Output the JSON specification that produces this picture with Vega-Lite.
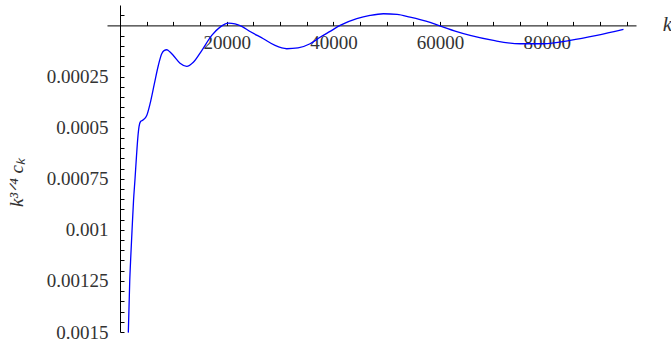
{
  "$schema": "https://vega.github.io/schema/vega-lite/v6.json",
  "autosize": {"type": "none"},
  "padding": {"left": 107, "top": 5, "right": 35, "bottom": 12},
  "width": 529,
  "height": 327,
  "background": "white",
  "config": {"view": {"stroke": null}, "font": "Liberation Serif"},
  "data": {"values": [
    {"k": 1556, "c": 0.001503},
    {"k": 1819, "c": 0.001253},
    {"k": 2025, "c": 0.001127},
    {"k": 2250, "c": 0.001005},
    {"k": 2531, "c": 0.000858},
    {"k": 2813, "c": 0.00075},
    {"k": 3094, "c": 0.000637},
    {"k": 3319, "c": 0.000555},
    {"k": 3563, "c": 0.000495},
    {"k": 3844, "c": 0.00047},
    {"k": 4369, "c": 0.000462},
    {"k": 5006, "c": 0.000441},
    {"k": 5625, "c": 0.000384},
    {"k": 6431, "c": 0.000286},
    {"k": 7181, "c": 0.000196},
    {"k": 7819, "c": 0.000139},
    {"k": 8250, "c": 0.000123},
    {"k": 8756, "c": 0.000119},
    {"k": 9375, "c": 0.00013},
    {"k": 9994, "c": 0.000147},
    {"k": 11250, "c": 0.000185},
    {"k": 12506, "c": 0.0002},
    {"k": 13744, "c": 0.00018},
    {"k": 15319, "c": 0.000123},
    {"k": 17194, "c": 0.000049},
    {"k": 18750, "c": 0.0000083},
    {"k": 20306, "c": -0.0000113},
    {"k": 21563, "c": -0.0000074},
    {"k": 22819, "c": 0.0000049},
    {"k": 24375, "c": 0.0000294},
    {"k": 26869, "c": 0.0000652},
    {"k": 29063, "c": 0.000098},
    {"k": 31256, "c": 0.000114},
    {"k": 33375, "c": 0.00011},
    {"k": 35625, "c": 0.0000897},
    {"k": 37500, "c": 0.0000580},
    {"k": 39375, "c": 0.0000290},
    {"k": 41250, "c": 0},
    {"k": 44381, "c": -0.0000328},
    {"k": 46875, "c": -0.000049},
    {"k": 49369, "c": -0.0000573},
    {"k": 51938, "c": -0.0000539},
    {"k": 54375, "c": -0.0000407},
    {"k": 56250, "c": -0.0000290},
    {"k": 58125, "c": -0.0000150},
    {"k": 59681, "c": 0},
    {"k": 62813, "c": 0.0000280},
    {"k": 65625, "c": 0.000049},
    {"k": 70000, "c": 0.0000735},
    {"k": 75000, "c": 0.0000897},
    {"k": 79369, "c": 0.0000897},
    {"k": 84375, "c": 0.0000735},
    {"k": 89381, "c": 0.000049},
    {"k": 94369, "c": 0.0000196}
  ]},
  "mark": {"type": "line", "color": "#0000ff", "strokeWidth": 1.3, "interpolate": "monotone", "clip": false},
  "encoding": {
    "x": {
      "field": "k", "type": "quantitative",
      "scale": {"domain": [-2440, 96720], "nice": false, "zero": false},
      "axis": {
        "orient": "bottom",
        "offset": -306.6,
        "values": [5000,10000,15000,20000,25000,30000,35000,40000,45000,50000,55000,60000,65000,70000,75000,80000,85000,90000,95000],
        "labelExpr": "datum.value % 20000 === 0 ? format(datum.value, 'd') : ''",
        "grid": false,
        "domainColor": "#000000",
        "tickColor": "#000000",
        "tickSize": -4,
        "tickWidth": 1,
        "domainWidth": 1,
        "labelPadding": 12,
        "labelBaseline": "top",
        "labelFont": "Liberation Serif",
        "labelFontSize": 19,
        "labelColor": "#333333",
        "labelOverlap": false,
        "labelFlush": false,
        "title": "k",
        "titleFont": "Liberation Serif",
        "titleFontStyle": "italic",
        "titleFontWeight": "normal",
        "titleFontSize": 21,
        "titleColor": "#333333",
        "titleX": 560,
        "titleY": -1,
        "titleAlign": "center",
        "titleBaseline": "middle"
      }
    },
    "y": {
      "field": "c", "type": "quantitative",
      "scale": {"domain": [-0.0001, 0.0015], "nice": false, "zero": false, "reverse": true},
      "axis": {
        "orient": "left",
        "offset": -13,
        "values": [-0.00005,0.00005,0.0001,0.00015,0.0002,0.00025,0.0003,0.00035,0.0004,0.00045,0.0005,0.00055,0.0006,0.00065,0.0007,0.00075,0.0008,0.00085,0.0009,0.00095,0.001,0.00105,0.0011,0.00115,0.0012,0.00125,0.0013,0.00135,0.0014,0.00145,0.0015],
        "labelExpr": "datum.value > 0 && abs(datum.value * 4000 - round(datum.value * 4000)) < 0.000001 ? format(datum.value, '~g') : ''",
        "grid": false,
        "domainColor": "#000000",
        "tickColor": "#000000",
        "tickSize": -4,
        "tickWidth": 1,
        "domainWidth": 1,
        "labelPadding": 16,
        "labelFont": "Liberation Serif",
        "labelFontSize": 19,
        "labelColor": "#333333",
        "labelOverlap": false,
        "labelFlush": false,
        "title": "k³ᐟ⁴ cₖ",
        "titleFont": "Liberation Serif",
        "titleFontStyle": "italic",
        "titleFontWeight": "normal",
        "titleFontSize": 19,
        "titleColor": "#333333",
        "titleX": -104,
        "titleY": 177,
        "titleAngle": -90,
        "titleAlign": "center",
        "titleBaseline": "middle"
      }
    }
  }
}
